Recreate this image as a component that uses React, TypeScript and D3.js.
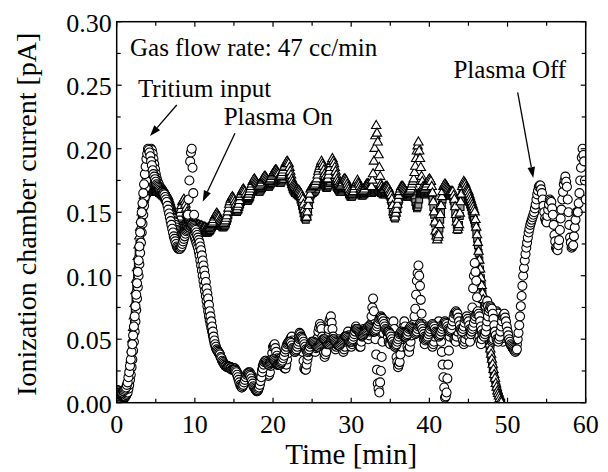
import React from "react";
import * as d3 from "d3";

// sampling interval of every series, minutes
const STEP_MIN = 0.1;

// values in fA (0.001 pA), one row per minute (t = m, m+0.1, ... m+0.9)
const openCircleFA = [
  5, 5, 4, 4, 5, 6, 6, 5, 5, 5,
  5, 5, 6, 7, 8, 11, 14, 18, 22, 28,
  34, 41, 48, 56, 64, 73, 82, 91, 100, 109,
  118, 126, 134, 141, 148, 155, 162, 169, 175, 181,
  187, 192, 196, 199, 200, 199, 196, 192, 188, 184,
  180, 177, 175, 173, 172, 170, 168, 166, 165, 165,
  165, 164, 163, 162, 160, 158, 156, 153, 150, 149,
  148, 146, 145, 143, 142, 140, 138, 136, 135, 134,
  133, 132, 132, 132, 133, 133, 134, 135, 136, 137,
  138, 148, 160, 175, 190, 197, 200, 185, 165, 148,
  130, 128, 126, 124, 122, 119, 116, 112, 108, 104,
  100, 96, 92, 88, 84, 80, 76, 72, 68, 65,
  62, 59, 56, 53, 50, 47, 45, 43, 42, 41,
  40, 39, 38, 36, 35, 33, 32, 31, 30, 29,
  29, 29, 29, 28, 28, 28, 28, 27, 27, 27,
  27, 27, 26, 25, 24, 22, 20, 18, 16, 14,
  12, 13, 14, 16, 18, 20, 21, 22, 23, 24,
  24, 23, 22, 20, 18, 16, 14, 12, 10, 9,
  9, 10, 12, 15, 18, 22, 26, 29, 31, 31,
  30, 28, 25, 23, 21, 22, 24, 29, 34, 39,
  44, 45, 46, 43, 40, 37, 35, 34, 34, 34,
  35, 34, 32, 30, 28, 27, 27, 30, 34, 39,
  44, 47, 50, 51, 52, 49, 46, 43, 40, 41,
  42, 45, 48, 52, 55, 54, 52, 46, 40, 33,
  27, 26, 26, 30, 34, 37, 40, 43, 46, 47,
  48, 46, 44, 42, 40, 43, 46, 51, 56, 59,
  62, 60, 58, 52, 45, 40, 36, 38, 40, 46,
  52, 58, 64, 66, 68, 63, 58, 52, 46, 44,
  42, 44, 46, 48, 50, 49, 48, 46, 44, 42,
  40, 42, 44, 48, 52, 54, 56, 53, 50, 47,
  44, 46, 48, 52, 55, 58, 60, 57, 54, 50,
  45, 44, 44, 48, 52, 55, 58, 57, 56, 54,
  52, 51, 50, 53, 56, 62, 68, 75, 82, 72,
  62, 50, 38, 26, 15, 11, 8, 16, 25, 36,
  48, 55, 62, 63, 64, 60, 56, 52, 48, 47,
  46, 50, 55, 60, 64, 58, 52, 44, 36, 32,
  28, 30, 32, 38, 44, 50, 56, 60, 64, 60,
  56, 50, 44, 42, 40, 44, 48, 53, 58, 60,
  62, 68, 74, 85, 96, 102, 108, 100, 92, 81,
  70, 62, 55, 50, 46, 49, 52, 56, 60, 59,
  58, 54, 50, 47, 44, 46, 48, 52, 56, 59,
  62, 63, 64, 60, 56, 48, 40, 30, 20, 12,
  4, 5, 8, 19, 30, 41, 52, 57, 62, 60,
  58, 54, 50, 49, 48, 52, 56, 60, 64, 63,
  62, 57, 52, 49, 46, 48, 50, 54, 58, 57,
  56, 52, 48, 54, 60, 75, 90, 100, 110, 103,
  96, 83, 70, 61, 52, 49, 46, 50, 54, 60,
  66, 71, 76, 78, 80, 76, 72, 65, 58, 53,
  48, 49, 50, 56, 62, 67, 72, 71, 70, 65,
  60, 55, 50, 49, 48, 51, 54, 57, 60, 58,
  56, 53, 50, 48, 46, 45, 44, 43, 42, 42,
  42, 44, 46, 50, 55, 61, 68, 76, 84, 92,
  100, 106, 112, 117, 122, 126, 130, 134, 137, 140,
  142, 144, 146, 148, 150, 153, 156, 160, 164, 167,
  170, 171, 171, 168, 165, 160, 155, 150, 145, 143,
  142, 147, 152, 156, 160, 159, 158, 153, 148, 140,
  132, 127, 122, 121, 120, 124, 128, 136, 145, 152,
  160, 166, 172, 175, 178, 174, 170, 160, 150, 140,
  130, 126, 122, 123, 124, 131, 138, 144, 150, 150,
  150, 157, 165, 175, 185, 193, 200, 195, 190, 175,
  160,
];

const denseCircleFA = [
  10, 10, 9, 9, 8, 8, 8, 8, 9, 9,
  10, 11, 12, 14, 16, 20, 24, 29, 34, 40,
  46, 53, 60, 68, 76, 85, 94, 103, 112, 123,
  134, 142, 150, 157, 165, 172, 180, 186, 192, 196,
  200, 199, 197, 194, 190, 187, 183, 180, 178, 176,
  174, 172, 171, 170, 169, 168, 167, 166, 166, 165,
  165, 164, 162, 160, 158, 155, 152, 149, 146, 143,
  140, 137, 134, 131, 129, 127, 125, 123, 122, 121,
  121, 121, 122, 123, 125, 127, 129, 131, 133, 135,
  136, 137, 138, 138, 139, 139, 140, 140, 139, 138,
  137, 136, 134, 132, 130, 128, 126, 123, 120, 116,
  112, 108, 104, 100, 95, 90, 86, 82, 77, 72,
  68, 64, 60, 56, 52, 49, 46, 44, 42, 41,
  40, 39, 38, 36, 35, 33, 32, 31, 30, 29,
  29, 28, 28, 28, 28, 27, 27, 26, 26, 26,
  26, 26, 25, 24, 22, 20, 18, 16, 14, 13,
  12, 13, 14, 16, 18, 20, 22, 23, 23, 23,
  22, 21, 19, 17, 15, 13, 12, 11, 10, 10,
  10, 11, 12, 14, 17, 20, 24, 27, 30, 32,
  33, 33, 32, 31, 30, 30, 31, 32, 33, 34,
  34, 34, 33, 32, 31, 30, 30, 30, 30, 30,
  31, 32, 33, 35, 37, 40, 42, 44, 46, 47,
  48, 48, 48, 47, 45, 43, 42, 41, 40, 41,
  42, 44, 46, 48, 50, 51, 52, 51, 50, 48,
  46, 44, 42, 41, 40, 41, 42, 44, 46, 47,
  48, 48, 48, 47, 46, 45, 44, 44, 44, 45,
  46, 47, 48, 49, 50, 50, 50, 49, 48, 47,
  46, 46, 46, 47, 48, 49, 50, 50, 50, 49,
  48, 47, 46, 45, 45, 45, 46, 47, 48, 49,
  50, 51, 52, 52, 52, 51, 50, 49, 48, 48,
  48, 49, 50, 52, 54, 56, 58, 58, 58, 57,
  56, 55, 54, 53, 53, 53, 54, 55, 56, 57,
  58, 59, 60, 60, 60, 59, 58, 57, 56, 56,
  56, 57, 58, 60, 62, 64, 66, 67, 68, 67,
  66, 64, 62, 60, 58, 57, 56, 56, 56, 55,
  54, 52, 50, 48, 46, 45, 44, 45, 46, 48,
  50, 52, 54, 55, 56, 55, 54, 53, 52, 52,
  52, 53, 54, 56, 58, 59, 60, 59, 58, 57,
  56, 55, 54, 55, 56, 58, 60, 61, 62, 61,
  60, 58, 56, 54, 52, 51, 50, 51, 52, 54,
  56, 58, 60, 61, 62, 61, 60, 58, 56, 55,
  54, 53, 52, 53, 54, 56, 58, 60, 62, 63,
  64, 63, 62, 60, 58, 57, 56, 57, 58, 61,
  64, 67, 70, 71, 72, 71, 70, 67, 64, 61,
  58, 57, 56, 58, 60, 63, 66, 67, 68, 66,
  64, 61, 58, 57, 56, 58, 60, 63, 66, 68,
  70, 71, 72, 70, 68, 64, 60, 57, 54, 53,
  52, 54, 56, 60, 64, 68, 72, 74, 76, 75,
  74, 70, 66, 61, 56, 53, 50, 49, 48, 50,
  52, 56, 60, 64, 68, 69, 70, 67, 64, 60,
  56, 53, 50, 48, 46, 45, 44, 43, 42, 41,
  40, 41, 42,
];

const triangleFA = [
  0, 0, 0, 0, 1, 1, 2, 2, 3, 4,
  5, 6, 8, 11, 14, 18, 22, 28, 34, 42,
  50, 59, 68, 78, 88, 97, 106, 115, 124, 131,
  138, 144, 150, 155, 160, 163, 166, 168, 170, 171,
  172, 172, 172, 172, 171, 171, 170, 170, 170, 170,
  170, 170, 170, 170, 169, 169, 168, 168, 168, 168,
  167, 167, 166, 165, 164, 163, 162, 160, 158, 156,
  154, 152, 150, 148, 147, 146, 145, 144, 144, 145,
  146, 149, 152, 155, 158, 159, 160, 158, 156, 153,
  150, 148, 146, 145, 144, 144, 143, 143, 142, 142,
  141, 141, 140, 140, 140, 140, 139, 139, 139, 139,
  138, 138, 138, 138, 137, 137, 137, 137, 138, 138,
  139, 140, 141, 142, 144, 146, 147, 148, 149, 148,
  147, 146, 144, 143, 142, 141, 141, 141, 142, 143,
  145, 147, 150, 153, 156, 158, 160, 161, 162, 161,
  160, 158, 156, 154, 152, 154, 156, 159, 162, 164,
  166, 167, 168, 167, 166, 164, 162, 162, 162, 164,
  166, 168, 170, 172, 174, 175, 176, 175, 174, 173,
  172, 171, 170, 171, 172, 173, 175, 176, 177, 178,
  178, 177, 176, 175, 174, 174, 175, 176, 178, 179,
  180, 181, 182, 183, 183, 182, 181, 180, 178, 178,
  178, 179, 181, 183, 185, 186, 188, 189, 190, 189,
  188, 185, 182, 179, 176, 174, 172, 171, 170, 169,
  168, 168, 167, 167, 166, 165, 164, 162, 160, 156,
  152, 149, 146, 146, 150, 155, 160, 164, 168, 169,
  170, 170, 171, 171, 172, 174, 176, 179, 182, 184,
  186, 188, 190, 188, 186, 183, 180, 178, 176, 176,
  176, 179, 182, 185, 188, 190, 192, 190, 188, 185,
  182, 179, 176, 174, 172, 171, 170, 171, 172, 173,
  175, 176, 176, 175, 174, 172, 170, 168, 166, 165,
  164, 164, 165, 166, 168, 170, 172, 173, 175, 173,
  172, 170, 168, 167, 166, 166, 167, 168, 170, 171,
  172, 172, 172, 171, 170, 170, 170, 175, 180, 190,
  200, 210, 218, 212, 205, 195, 185, 178, 172, 170,
  168, 168, 168, 169, 170, 170, 170, 169, 168, 166,
  165, 163, 160, 155, 150, 148, 146, 149, 152, 156,
  160, 163, 166, 168, 170, 170, 170, 169, 168, 167,
  166, 165, 165, 165, 166, 167, 168, 170, 172, 174,
  176, 181, 186, 192, 198, 202, 205, 198, 192, 185,
  178, 174, 170, 169, 168, 169, 170, 172, 174, 175,
  176, 175, 174, 170, 165, 158, 150, 142, 135, 131,
  128, 130, 132, 140, 148, 155, 162, 166, 170, 171,
  172, 171, 170, 169, 168, 167, 166, 166, 166, 166,
  166, 163, 160, 154, 148, 142, 136, 138, 140, 149,
  158, 164, 170, 172, 174, 173, 172, 170, 168, 167,
  166, 164, 162, 160, 158, 156, 154, 152, 150, 144,
  138, 132, 126, 119, 112, 105, 98, 92, 86, 81,
  76, 71, 67, 62, 58, 54, 50, 46, 42, 38,
  34, 30, 26, 22, 19, 15, 12, 9, 7, 5,
  3, 1, 0,
];

const squareFA = [
  2, 2, 2, 2, 2, 2, 3, 3, 4, 4,
  5, 6, 7, 9, 12, 16, 20, 25, 30, 37,
  44, 53, 62, 72, 82, 91, 100, 109, 118, 125,
  132, 138, 144, 149, 154, 157, 160, 162, 164, 165,
  166, 166, 167, 167, 167, 166, 166, 166, 166, 166,
  166, 166, 166, 166, 165, 165, 164, 164, 163, 163,
  162, 161, 160, 159, 158, 157, 155, 153, 151, 150,
  148, 147, 145, 144, 143, 142, 141, 140, 140, 140,
  141, 142, 143, 144, 146, 147, 148, 148, 147, 146,
  145, 144, 142, 141, 140, 140, 139, 139, 138, 138,
  137, 137, 136, 136, 136, 136, 135, 135, 135, 135,
  134, 134, 134, 134, 134, 134, 134, 134, 135, 135,
  136, 137, 138, 139, 140, 141, 142, 143, 143, 143,
  142, 141, 140, 139, 139, 138, 138, 138, 139, 140,
  141, 143, 145, 148, 150, 152, 154, 155, 156, 156,
  155, 154, 152, 151, 150, 151, 152, 154, 156, 158,
  160, 161, 162, 162, 161, 160, 159, 159, 159, 160,
  161, 162, 164, 166, 167, 168, 169, 169, 168, 168,
  167, 167, 166, 166, 167, 168, 169, 170, 171, 172,
  172, 172, 171, 171, 170, 170, 171, 172, 173, 174,
  175, 175, 176, 176, 176, 176, 175, 174, 173, 173,
  173, 174, 175, 176, 178, 179, 180, 180, 180, 179,
  178, 176, 174, 172, 170, 168, 167, 166, 165, 165,
  164, 164, 163, 163, 162, 160, 158, 155, 152, 149,
  146, 145, 144, 146, 148, 152, 156, 160, 163, 164,
  165, 165, 166, 166, 167, 168, 170, 172, 174, 175,
  176, 176, 176, 175, 174, 172, 171, 170, 169, 169,
  170, 171, 173, 174, 176, 177, 178, 177, 176, 174,
  172, 170, 169, 168, 167, 166, 166, 166, 167, 168,
  169, 170, 170, 170, 169, 168, 166, 164, 163, 162,
  162, 162, 163, 164, 165, 166, 167, 168, 168, 167,
  166, 165, 164, 163, 163, 163, 164, 164, 165, 165,
  166, 166, 166, 166, 165, 165, 165, 165, 166, 166,
  167, 167, 168, 168, 167, 167, 166, 166, 165, 165,
  164, 164, 164, 164, 165, 165, 165, 165, 164, 163,
  162, 159, 156, 152, 148, 146, 145, 147, 150, 153,
  156, 159, 162, 164, 165, 165, 165, 165, 164, 164,
  163, 162, 162, 162, 163, 163, 164, 164, 165, 165,
  164, 161, 158, 155, 153, 154, 156, 160, 164, 165,
  166, 166, 165, 164, 164, 164, 165, 165, 166, 166,
  167, 167, 166, 163, 160, 154, 148, 141, 134, 131,
  129, 130, 131, 137, 144, 150, 156, 160, 163, 164,
  165, 165, 165, 164, 164, 164, 163, 163, 163, 163,
  162, 159, 156, 150, 145, 140, 136, 138, 140, 147,
  154, 159, 164, 166, 168, 168, 167, 166, 164, 162,
  160, 158, 156, 154, 151, 148, 146, 144, 141, 138,
  134, 129, 124, 118, 112, 105, 98, 92, 86, 81,
  76, 71, 66, 62, 57, 52, 48, 44, 40, 36,
  32, 28, 25, 21, 18, 15, 12, 9, 7, 5,
  3, 1, 0,
];

const xTicksMajor = [0, 10, 20, 30, 40, 50, 60];
const xTicksMinor = [5, 15, 25, 35, 45, 55];
const yTicksMajor = [0, 0.05, 0.1, 0.15, 0.2, 0.25, 0.3];
const yTicksMinor = [0.025, 0.075, 0.125, 0.175, 0.225, 0.275];

const xLabel = "Time [min]";
const yLabel = "Ionization chamber current [pA]";

// annotation texts with anchor (minutes, pA)
const notes = [
  { text: "Gas flow rate: 47 cc/min", t: 1.7, v: 0.273 },
  { text: "Tritium input", t: 2.72, v: 0.2411 },
  { text: "Plasma On", t: 13.69, v: 0.2187 },
  { text: "Plasma Off", t: 43.08, v: 0.2554 },
];
// arrows: from (t1,v1) to tip (t2,v2)
const arrows = [
  { t1: 7.68, v1: 0.2344, t2: 4.26, v2: 0.21 },
  { t1: 15.13, v1: 0.2121, t2: 11.0, v2: 0.1583 },
  { t1: 51.3, v1: 0.2443, t2: 53.29, v2: 0.1769 },
];

const W = 608;
const H = 472;
const L = 116.7, R = 585.7, T = 21.7, B = 402.7;
const FONT = "Liberation Serif";

function toPoints(fa: number[]) {
  return fa.map((v, i) => ({ t: i * STEP_MIN, v: v / 1000 }));
}

export default function App() {
  const x = d3.scaleLinear().domain([0, 60]).range([L, R]);
  const y = d3.scaleLinear().domain([0, 0.3]).range([B, T]);

  const circle = d3.symbol().type(d3.symbolCircle).size(Math.PI * 4.5 * 4.5)() as string;
  const tri = d3.symbol().type(d3.symbolTriangle).size(38)() as string;
  const sq = d3.symbol().type(d3.symbolSquare).size(45)() as string;

  const series = [
    { pts: toPoints(squareFA), d: sq, fill: "#9a9a9a" },
    { pts: toPoints(triangleFA), d: tri, fill: "#ffffff" },
    { pts: toPoints(openCircleFA), d: circle, fill: "#ffffff" },
    { pts: toPoints(denseCircleFA), d: circle, fill: "#ffffff" },
  ];

  const tickMajor = 5;
  const tickMinor = 4;

  return (
    <svg width={W} height={H} style={{ position: "absolute", left: 0, top: 0, background: "#fff" }}>
      <defs>
        <clipPath id="plot">
          <rect x={L} y={T} width={R - L} height={B - T} />
        </clipPath>
      </defs>
      <rect x={0} y={0} width={W} height={H} fill="#fff" />
      <g clipPath="url(#plot)">
        {series.map((s, si) => (
          <g key={si}>
            {s.pts.map((p, i) => (
              <path
                key={i}
                d={s.d}
                transform={`translate(${x(p.t)},${y(p.v)})`}
                fill={s.fill}
                stroke="#000"
                strokeWidth={1.1}
              />
            ))}
          </g>
        ))}
      </g>
      <rect x={L} y={T} width={R - L} height={B - T} fill="none" stroke="#000" strokeWidth={1.5} />
      <g stroke="#000" strokeWidth={1.2}>
        {xTicksMajor.concat(xTicksMinor).map((t, i) => {
          const len = i < xTicksMajor.length ? tickMajor : tickMinor;
          return (
            <g key={"x" + i}>
              <line x1={x(t)} x2={x(t)} y1={B} y2={B - len} />
              <line x1={x(t)} x2={x(t)} y1={T} y2={T + len} />
            </g>
          );
        })}
        {yTicksMajor.concat(yTicksMinor).map((v, i) => {
          const len = i < yTicksMajor.length ? tickMajor : tickMinor;
          return (
            <g key={"y" + i}>
              <line x1={L} x2={L + len} y1={y(v)} y2={y(v)} />
              <line x1={R} x2={R - len} y1={y(v)} y2={y(v)} />
            </g>
          );
        })}
      </g>
      {xTicksMajor.map((t) => (
        <text key={"xl" + t} x={x(t)} y={B + 30} textAnchor="middle" fontSize={26} fontFamily={FONT}>
          {d3.format("d")(t)}
        </text>
      ))}
      {yTicksMajor.map((v) => (
        <text key={"yl" + v} x={L - 5} y={y(v) + 10} textAnchor="end" fontSize={26} fontFamily={FONT}>
          {d3.format(".2f")(v)}
        </text>
      ))}
      <text x={(L + R) / 2} y={464} textAnchor="middle" fontSize={29} fontFamily={FONT}>
        {xLabel}
      </text>
      <text
        transform={`translate(36,${(T + B) / 2 + 2}) rotate(-90)`}
        textAnchor="middle"
        fontSize={28}
        fontFamily={FONT}
      >
        {yLabel}
      </text>
      {notes.map((n) => (
        <text key={n.text} x={x(n.t)} y={y(n.v)} fontSize={25} fontFamily={FONT}>
          {n.text}
        </text>
      ))}
      {arrows.map((a, i) => {
        const x1 = x(a.t1), y1 = y(a.v1), x2 = x(a.t2), y2 = y(a.v2);
        const ang = Math.atan2(y2 - y1, x2 - x1);
        const hl = 11, hw = 3.8;
        const bx = x2 - hl * Math.cos(ang);
        const by = y2 - hl * Math.sin(ang);
        const px = -Math.sin(ang), py = Math.cos(ang);
        return (
          <g key={i}>
            <line x1={x1} y1={y1} x2={bx} y2={by} stroke="#000" strokeWidth={1.3} />
            <polygon
              points={`${x2},${y2} ${bx + hw * px},${by + hw * py} ${bx - hw * px},${by - hw * py}`}
              fill="#000"
            />
          </g>
        );
      })}
    </svg>
  );
}
